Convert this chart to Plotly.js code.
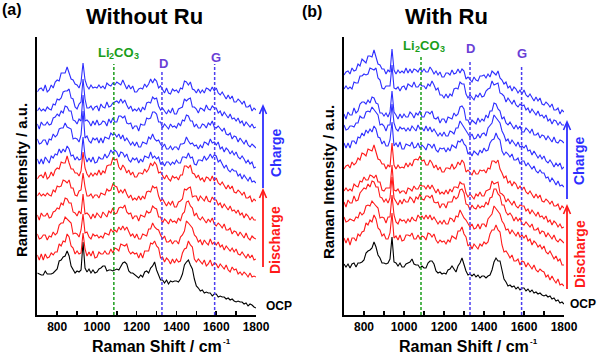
<!DOCTYPE html>
<html><head><meta charset="utf-8">
<script src="https://cdn.plot.ly/plotly-3.0.1.min.js"></script>
<style>html,body{margin:0;padding:0;background:#fff}#chart{width:600px;height:354px}</style>
</head><body><div id="chart"></div>
<script>
const shift = [700,710,720,730,740,750,760,770,780,790,800,810,820,830,840,850,860,870,880,890,900,910,920,930,940,950,960,970,980,990,1000,1010,1020,1030,1040,1050,1060,1070,1080,1090,1100,1110,1120,1130,1140,1150,1160,1170,1180,1190,1200,1210,1220,1230,1240,1250,1260,1270,1280,1290,1300,1310,1320,1330,1340,1350,1360,1370,1380,1390,1400,1410,1420,1430,1440,1450,1460,1470,1480,1490,1500,1510,1520,1530,1540,1550,1560,1570,1580,1590,1600,1610,1620,1630,1640,1650,1660,1670,1680,1690,1700,1710,1720,1730,1740,1750,1760,1770,1780,1790,1800];

// Panel (a) Without Ru
const a_ocp = [42,41,40,40,44,41,41,41,42,44, 46,54,55,58,59,64,59,49,45,42, 44,43,45,73,47,43,46,42,45,42, 43,46,47,49,49,44,45,45,44,45, 46,45,49,52,53,51,44,42,42,40, 39,37,40,38,43,44,42,47,49,53, 45,40,35,35,32,35,31,34,33,34, 34,33,36,41,50,53,55,50,46,36, 29,27,24,25,22,23,22,22,19,21, 21,18,19,18,18,16,17,15,16,14, 13,14,13,13,11,12,9,11,10,8, 7];
const a_dis1 = [60,55,61,55,61,57,58,62,60,63, 63,71,69,74,73,81,78,69,67,61, 64,61,62,82,66,59,63,59,64,57, 58,63,61,61,64,61,61,66,62,67, 66,64,71,70,69,71,64,61,63,61, 62,57,62,57,64,64,64,72,71,74, 69,67,57,58,53,57,55,51,56,52, 56,53,54,62,66,67,74,70,68,56, 53,56,54,51,55,49,51,55,49,52, 51,47,51,48,46,50,45,43,48,45, 46,41,43,40,43,41,38,42,38,39, 38];
const a_dis2 = [81,76,77,80,80,75,79,78,83,80, 82,90,92,92,98,96,95,92,81,82, 81,78,85,101,82,83,78,76,81,79, 80,77,79,77,82,81,80,86,83,85, 83,88,85,89,85,88,84,79,81,77, 81,76,76,81,80,79,86,86,92,88, 86,85,80,76,79,73,73,75,71,74, 74,71,78,80,84,94,92,89,87,80, 78,73,75,70,75,72,70,76,71,73, 70,73,68,70,65,69,67,64,67,63, 66,61,60,63,60,57,61,57,60,55, 56];
const a_dis3 = [100,95,102,99,99,102,97,98,103,104, 107,106,112,110,117,116,112,112,103,102, 99,104,101,121,101,102,100,96,101,97, 102,99,97,103,100,98,104,102,107,101, 102,107,108,107,110,103,101,102,96,99, 99,94,100,99,98,104,102,103,109,107, 106,98,98,92,96,94,91,96,93,94, 92,97,94,101,103,113,114,109,107,99, 102,97,95,98,95,92,96,93,97,91, 89,92,90,87,91,85,85,87,81,84, 83,79,83,80,77,82,77,75,79,77, 76];
const a_dis4 = [119,122,119,121,119,122,120,119,125,123, 129,128,129,135,134,132,135,127,127,120, 119,124,125,142,128,119,119,121,117,120, 120,117,122,121,120,126,124,125,131,129, 128,122,125,122,126,121,117,120,115,117, 115,119,115,119,116,123,124,123,129,127, 128,119,114,116,113,109,113,110,114,108, 108,113,114,116,126,125,127,128,118,119, 119,114,119,116,114,119,114,113,118,115, 115,110,112,107,111,108,105,109,104,105, 102,105,100,102,97,101,99,95,98,95, 95];
const a_dis5 = [136,139,140,137,143,136,138,143,139,145, 147,146,153,152,152,159,152,146,146,142, 142,139,144,163,147,141,138,142,139,142, 140,145,140,144,142,149,150,150,157,155, 156,148,145,150,147,142,145,140,143,138, 138,142,142,141,146,143,146,152,149,153, 150,142,143,139,136,140,136,134,139,137, 138,135,140,140,149,149,147,150,142,141, 137,140,135,137,133,138,137,134,139,134, 137,132,130,133,130,126,130,126,129,123, 122,125,123,120,123,117,117,119,113,116, 114];
const a_chg1 = [156,151,156,151,158,155,152,159,157,161, 160,166,162,166,163,169,166,159,160,155, 158,155,156,178,159,153,157,153,158,152, 153,158,156,156,161,157,160,165,162,165, 163,158,163,162,158,161,155,153,157,155, 157,152,156,153,159,158,157,163,157,159, 156,158,151,153,149,153,153,150,153,151, 155,152,152,158,158,157,162,157,158,151, 150,155,155,154,159,155,157,161,157,160, 159,153,155,151,147,150,145,143,146,144, 144,139,141,136,140,137,134,138,133,134, 132];
const a_chg2 = [176,171,172,175,175,170,176,175,181,178, 180,186,187,187,192,188,187,186,176,177, 176,173,180,204,177,179,174,172,177,175, 177,172,177,172,178,177,176,182,180,181, 178,181,176,180,174,177,174,170,173,169, 173,168,168,173,172,171,178,176,181,176, 174,175,171,168,171,166,166,169,165,168, 168,165,171,171,172,178,174,171,172,169, 170,166,170,167,173,172,170,176,172,173, 170,173,166,168,163,167,165,161,164,160, 163,158,156,159,156,152,155,151,153,147, 148];
const a_chg3 = [191,186,193,190,190,193,190,191,197,198, 201,199,204,202,209,208,204,204,195,194, 191,196,194,220,194,195,193,189,194,190, 195,190,191,194,193,189,196,192,197,193, 193,199,199,197,199,192,191,192,186,189, 189,184,191,190,190,197,196,197,203,203, 201,193,193,187,191,189,186,191,188,189, 187,192,189,195,194,200,199,194,194,188, 191,187,187,191,190,187,192,190,194,188, 187,189,187,184,187,181,180,182,176,179, 178,173,177,174,171,175,170,168,171,169, 167];
const a_chg4 = [204,207,204,206,204,208,206,205,211,210, 216,215,217,223,224,224,226,217,216,208, 206,211,213,236,216,207,207,209,205,208, 209,204,211,208,207,213,208,209,212,213, 214,212,216,212,215,210,206,209,204,206, 204,207,203,208,205,212,213,212,218,216, 217,209,205,207,204,201,205,202,207,201, 201,206,207,208,216,214,216,217,208,208, 206,202,207,206,204,210,206,205,209,207, 207,202,204,199,203,200,197,201,196,197, 194,197,192,194,189,193,191,188,191,187, 188];
const a_chg5 = [223,226,227,224,230,223,225,230,227,233, 235,234,242,242,242,248,242,236,235,231, 230,227,233,252,235,229,226,230,227,228, 227,230,227,229,226,232,230,229,232,230, 233,231,230,235,231,226,230,226,229,223, 223,226,227,226,231,228,231,236,232,236, 234,227,229,225,222,227,222,221,226,224, 225,222,227,226,234,233,230,233,226,225, 222,226,222,225,222,227,226,224,228,224, 227,222,220,223,220,216,220,216,219,213, 213,216,214,211,214,208,208,210,204,207, 205];

// Panel (b) With Ru
const b_ocp = [51,48,51,47,51,52,48,52,52,53, 55,62,64,65,67,73,68,60,57,52, 52,51,52,56,78,53,52,49,52,48, 48,51,52,53,56,51,50,50,47,49, 47,47,52,54,54,51,44,42,43,41, 42,41,45,46,49,46,43,49,52,57, 49,44,40,41,39,41,38,40,37,39, 39,37,39,40,45,53,57,54,54,46, 36,33,29,30,28,29,26,28,25,27, 27,24,26,23,25,22,23,21,22,20, 19,20,18,19,16,17,14,15,12,13, 11];
const b_dis1 = [77,72,77,70,77,77,74,81,79,83, 84,92,90,95,93,100,96,87,85,79, 81,76,76,82,102,77,79,75,80,74, 75,80,80,79,82,76,76,80,76,79, 78,75,82,81,78,81,75,72,75,73, 74,71,75,73,79,77,76,84,84,88, 81,78,69,71,66,71,69,66,71,69, 73,71,73,81,85,85,90,85,83,70, 63,64,61,57,60,54,54,56,50,54, 53,48,52,49,46,50,45,43,46,44, 43,38,40,35,39,35,32,36,30,31, 29];
const b_dis2 = [98,93,94,96,95,94,98,97,103,100, 102,109,110,109,114,111,109,107,97,98, 97,92,98,98,120,100,93,91,96,94, 95,92,96,93,98,95,94,100,97,99, 96,100,96,100,95,98,95,91,94,91, 95,91,91,97,96,93,99,98,105,101, 97,95,91,88,91,86,87,91,86,91, 91,88,96,98,101,109,106,103,101,94, 91,85,86,81,85,82,79,83,78,80, 77,80,74,76,70,74,72,68,70,66, 69,63,61,64,60,56,59,54,56,50, 50];
const b_dis3 = [113,108,115,112,112,119,114,115,122,124, 127,126,131,128,134,133,128,128,118,117, 113,116,112,117,138,117,114,110,115,111, 116,113,113,118,116,112,118,116,121,116, 115,119,119,117,120,113,112,113,107,111, 111,107,113,113,113,119,116,118,125,126, 122,111,110,105,110,107,106,110,107,109, 108,113,110,117,118,126,126,121,119,110, 110,103,100,102,99,94,98,94,97,91, 90,93,91,88,91,85,85,87,81,84, 83,78,82,79,76,80,75,73,76,74, 72];
const b_dis4 = [124,127,124,126,124,131,129,128,134,133, 138,135,135,140,139,137,140,133,133,125, 124,127,127,127,150,125,124,126,122,124, 124,121,127,126,124,129,126,126,130,129, 129,126,130,126,130,126,122,126,121,123, 121,125,121,126,123,128,128,127,133,131, 131,122,118,121,119,116,121,119,123,119, 119,124,125,126,134,131,132,133,122,121, 119,113,116,113,110,114,109,107,110,109, 109,104,106,101,105,102,99,103,98,99, 96,99,93,95,90,94,92,88,91,87, 88];
const b_dis5 = [146,149,150,147,153,150,152,157,155,162, 161,159,166,165,164,170,163,156,155,151, 151,146,150,148,172,150,146,150,147,148, 147,152,148,152,149,155,156,155,159,154, 155,150,150,155,152,147,150,145,148,143, 143,147,147,146,151,146,148,153,150,155, 152,143,145,142,140,145,141,141,145,144, 145,142,147,146,154,154,152,155,146,142, 137,139,132,134,129,133,131,126,129,125, 128,123,121,124,121,117,121,117,120,114, 113,116,114,111,114,109,109,111,105,109, 107];
const b_chg1 = [172,167,172,167,174,174,171,178,177,182, 179,185,182,186,183,189,186,178,177,171, 174,169,169,175,193,169,172,168,173,166, 166,171,170,169,173,167,168,172,167,170, 168,165,171,170,167,171,165,163,167,166, 167,163,167,164,170,168,167,174,173,176, 171,169,161,163,159,164,162,160,165,162, 167,164,165,172,175,176,182,177,175,164, 160,163,161,158,161,155,155,157,151,154, 154,149,152,149,146,149,144,142,145,142, 142,137,138,133,137,134,130,134,129,130, 128];
const b_chg2 = [190,185,186,189,189,188,192,192,199,197, 197,203,204,203,208,205,203,200,190,191, 189,184,190,190,211,192,186,184,188,186, 187,184,187,184,189,186,184,190,186,187, 184,189,184,188,183,186,183,179,182,179, 183,179,179,184,183,181,187,187,194,191, 187,185,181,178,181,176,177,181,177,181, 182,179,187,189,192,200,197,194,192,184, 180,174,176,171,175,172,169,173,168,169, 167,170,164,165,160,164,161,157,160,156, 159,154,152,155,152,148,152,149,152,146, 148];
const b_chg3 = [201,196,203,200,200,207,202,204,211,213, 213,211,215,212,218,217,212,211,202,202, 199,202,198,203,224,203,200,196,201,197, 201,198,198,203,201,197,202,200,204,198, 198,203,203,201,204,197,196,198,192,196, 196,192,198,197,196,202,199,201,208,209, 206,195,195,190,195,193,191,197,193,196, 194,200,197,204,204,212,211,206,204,196, 198,192,190,193,190,186,190,186,189,183, 183,187,185,182,186,180,180,182,177,180, 179,175,179,176,173,178,173,172,175,174, 172];
const b_chg4 = [226,229,226,228,226,233,232,232,239,239, 241,240,241,247,246,245,247,237,235,227, 226,229,229,229,250,227,226,228,224,228, 229,225,231,229,228,233,228,228,231,229, 229,226,231,229,234,230,225,227,220,220, 217,221,217,221,219,226,227,226,233,231, 231,221,217,220,218,215,220,218,222,218, 219,224,226,227,234,230,231,232,222,221, 219,213,217,214,211,215,210,208,211,209, 210,205,207,202,206,203,200,204,199,200, 197,200,194,196,191,195,194,190,193,190, 190];
const b_chg5 = [240,243,244,241,247,244,245,251,249,256, 254,252,259,259,258,265,258,251,250,246, 246,241,245,243,266,245,241,245,242,244, 242,247,242,246,242,246,245,243,247,243, 246,243,243,248,245,241,244,240,243,238, 238,242,242,240,245,241,242,246,242,246, 244,236,238,235,233,238,235,234,239,239, 240,237,241,238,244,242,240,244,237,235, 231,233,227,229,224,228,226,222,225,221, 225,220,218,221,218,214,218,214,217,211, 210,213,211,208,211,205,205,207,201,205, 203];

const markerShiftsA = [1085, 1327, 1592];
const markerShiftsB = [1085, 1330, 1588];

const BLUE = '#2e2eff', RED = '#ff1a1a', BLACK = '#000000';
const GREEN = '#1a9e1a', PURPLE = '#6a3fd6', DBLUE = '#4a3cf0';

const W = 600, TOP = 37, BOT = 315, H = BOT - TOP;
const px = v => v / W;
const py = v => (BOT - v) / H;

function tr(y, color, xa, ya) {
  return {x: shift, y: y, type: 'scatter', mode: 'lines', xaxis: xa, yaxis: ya,
          line: {color: color, width: 1.1}, hoverinfo: 'skip', showlegend: false};
}
const traces = [
  tr(a_ocp, BLACK, 'x', 'y'),
  tr(a_dis1, RED, 'x', 'y'), tr(a_dis2, RED, 'x', 'y'), tr(a_dis3, RED, 'x', 'y'), tr(a_dis4, RED, 'x', 'y'), tr(a_dis5, RED, 'x', 'y'),
  tr(a_chg1, BLUE, 'x', 'y'), tr(a_chg2, BLUE, 'x', 'y'), tr(a_chg3, BLUE, 'x', 'y'), tr(a_chg4, BLUE, 'x', 'y'), tr(a_chg5, BLUE, 'x', 'y'),
  tr(b_ocp, BLACK, 'x2', 'y2'),
  tr(b_dis1, RED, 'x2', 'y2'), tr(b_dis2, RED, 'x2', 'y2'), tr(b_dis3, RED, 'x2', 'y2'), tr(b_dis4, RED, 'x2', 'y2'), tr(b_dis5, RED, 'x2', 'y2'),
  tr(b_chg1, BLUE, 'x2', 'y2'), tr(b_chg2, BLUE, 'x2', 'y2'), tr(b_chg3, BLUE, 'x2', 'y2'), tr(b_chg4, BLUE, 'x2', 'y2'), tr(b_chg5, BLUE, 'x2', 'y2')
];

const FONT = 'Liberation Sans, Arial, sans-serif';
function xax(domain, anchor) {
  return {domain: domain, anchor: anchor, range: [700, 1800], tickmode: 'linear', tick0: 800, dtick: 200,
    ticks: 'inside', ticklen: 4, tickwidth: 1.5, tickcolor: '#000',
    minor: {ticks: 'inside', tickmode: 'linear', tick0: 700, dtick: 100, ticklen: 4, tickwidth: 1.5, tickcolor: '#000', showgrid: false},
    showline: true, linewidth: 2, linecolor: '#000', showgrid: false, zeroline: false,
    tickfont: {family: FONT, size: 12, color: '#000', weight: 'bold'}, fixedrange: true};
}
function yax(anchor) {
  return {domain: [0, 1], range: [0, H], showticklabels: false, ticks: '', anchor: anchor,
    showline: true, linewidth: 2, linecolor: '#000', showgrid: false, zeroline: false, fixedrange: true};
}

function txt(t, x, y, size, color, angle, anchor) {
  return {text: t, x: px(x), y: py(y), xref: 'paper', yref: 'paper', showarrow: false,
    xanchor: anchor || 'center', yanchor: 'middle', textangle: angle || 0, borderpad: 0,
    font: {family: FONT, size: size, color: color, weight: 'bold'}};
}
// chemical label drawn as separate runs so that the subscripts sit lower
function li2co3(x0, y) {
  return [
    txt('Li', x0, y, 13, GREEN, 0, 'left'),
    txt('2', x0 + 11.6, y + 4, 9, GREEN, 0, 'left'),
    txt('CO', x0 + 16.6, y, 13, GREEN, 0, 'left'),
    txt('3', x0 + 36.1, y + 4, 9, GREEN, 0, 'left')
  ];
}
function shiftTitle(x0, y) {
  return [
    txt('Raman Shift / cm', x0, y, 16, '#000', 0, 'left'),
    txt('-1', x0 + 130.5, y - 5, 8, '#000', 0, 'left')
  ];
}
const annotations = [
  txt('(a)', 12, 10, 16, '#000'),
  txt('Without Ru', 144, 16, 22, '#000'),
  txt('(b)', 312, 12, 16, '#000'),
  txt('With Ru', 446, 16, 22, '#000'),
  ...li2co3(96.5, 52),
  txt('D', 163, 64, 13, PURPLE),
  txt('G', 216, 57, 13, PURPLE),
  ...li2co3(402.5, 45),
  txt('D', 470, 49, 13, PURPLE),
  txt('G', 522, 54, 13, PURPLE),
  txt('Charge', 276, 153, 14, BLUE, -90),
  txt('Discharge', 275, 240, 14, RED, -90),
  txt('OCP', 279, 306, 12, '#000'),
  txt('Charge', 579, 161, 14, BLUE, -90),
  txt('Discharge', 580, 254, 14, RED, -90),
  txt('OCP', 583, 304, 12, '#000'),
  txt('Raman Intensity / a.u.', 21, 180, 15, '#000', -90),
  txt('Raman Intensity / a.u.', 328, 182, 15, '#000', -90),
  ...shiftTitle(91, 346),
  ...shiftTitle(398, 346)
];

function vline(xv, xref, yTop, color) {
  return {type: 'line', xref: xref, yref: 'paper', x0: xv, x1: xv, y0: 0, y1: py(yTop),
    line: {color: color, width: 1.5, dash: '3px,2px'}, layer: 'above'};
}
function arrowShapes(x, yHead, yTail, color) {
  return [
    {type: 'line', xref: 'paper', yref: 'paper', x0: px(x), x1: px(x), y0: py(yTail), y1: py(yHead + 1),
     line: {color: color, width: 1.8}},
    {type: 'path', xref: 'paper', yref: 'paper',
     path: 'M ' + px(x - 3.5) + ',' + py(yHead + 8) + ' L ' + px(x) + ',' + py(yHead) + ' L ' + px(x + 3.5) + ',' + py(yHead + 8),
     line: {color: color, width: 1.6}}
  ];
}
const shapes = [
  vline(markerShiftsA[0], 'x', 64, GREEN), vline(markerShiftsA[1], 'x', 72, DBLUE), vline(markerShiftsA[2], 'x', 64, DBLUE),
  vline(markerShiftsB[0], 'x2', 55, GREEN), vline(markerShiftsB[1], 'x2', 60, DBLUE), vline(markerShiftsB[2], 'x2', 65, DBLUE),
  ...arrowShapes(263, 106, 188, BLUE),
  ...arrowShapes(263, 190, 267, RED),
  ...arrowShapes(567, 122, 199, BLUE),
  ...arrowShapes(567, 206, 289, RED)
];

const layout = {
  width: 600, height: 354, margin: {l: 0, r: 0, t: TOP, b: 354 - BOT},
  paper_bgcolor: '#fff', plot_bgcolor: 'rgba(0,0,0,0)', showlegend: false,
  xaxis: xax([37.3 / W, 256 / W], 'y'), yaxis: yax('x'),
  xaxis2: xax([344 / W, 564 / W], 'y2'), yaxis2: yax('x2'),
  annotations: annotations, shapes: shapes
};
Plotly.newPlot('chart', traces, layout, {staticPlot: true, displayModeBar: false});
</script></body></html>
